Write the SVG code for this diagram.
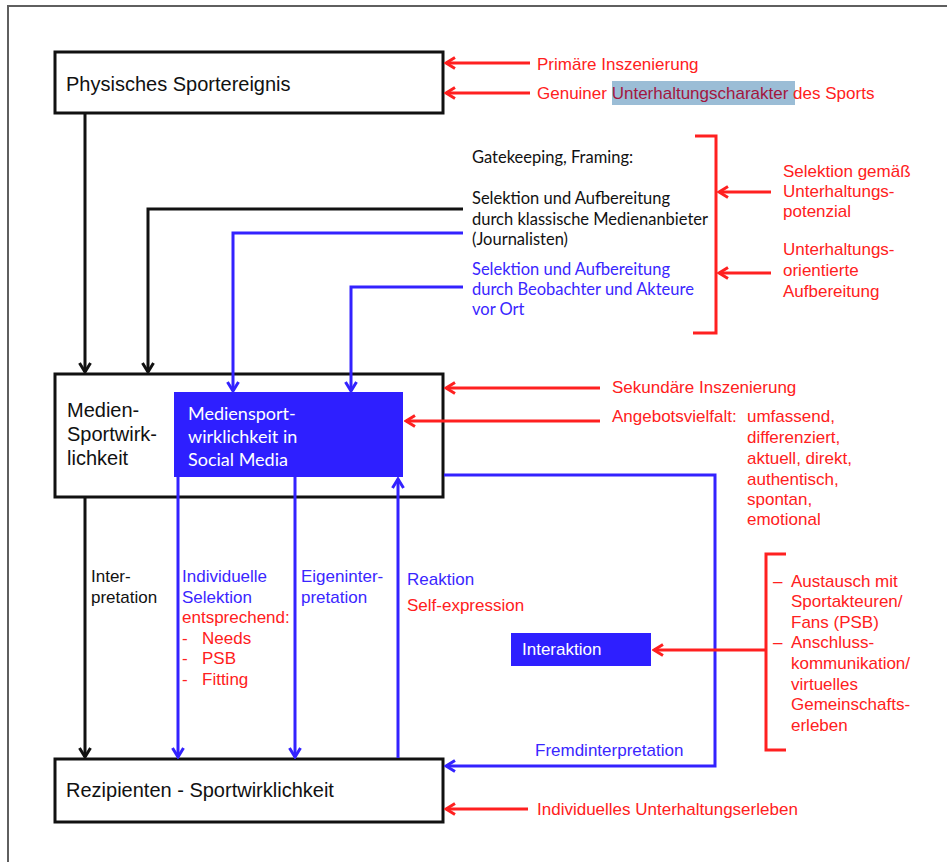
<svg xmlns="http://www.w3.org/2000/svg" width="947" height="862" viewBox="0 0 947 862">
  <defs>
    <style>
      .arial { font-family: "Liberation Sans", Arial, sans-serif; font-size: 17px; }
      .big { font-family: "Liberation Sans", Arial, sans-serif; font-size: 20px; fill: #111; }
      .cal { font-family: Lato, "Open Sans", sans-serif; font-size: 16.5px; }
      .cal-box { font-family: Lato, "Open Sans", sans-serif; font-size: 18px; }
      .red { fill: #ff2020; }
      .blu { fill: #3a26ff; }
      .blk { fill: #111; }
      .wht { fill: #ffffff; }
      .box { fill: #ffffff; stroke: #111; stroke-width: 3; }
      .bbox { fill: #2e1fff; }
      .lk { fill: none; stroke: #111; stroke-width: 3; }
      .lb { fill: none; stroke: #3322ff; stroke-width: 3; }
      .lr { fill: none; stroke: #ff2020; stroke-width: 3; }
    </style>
    <marker id="ak" markerUnits="userSpaceOnUse" markerWidth="14" markerHeight="14" viewBox="0 0 14 14" refX="12" refY="7" orient="auto">
      <path d="M3,1.5 L12,7 L3,12.5" fill="none" stroke="#111" stroke-width="3"/>
    </marker>
    <marker id="ab" markerUnits="userSpaceOnUse" markerWidth="14" markerHeight="14" viewBox="0 0 14 14" refX="12" refY="7" orient="auto">
      <path d="M3,1.5 L12,7 L3,12.5" fill="none" stroke="#3322ff" stroke-width="3"/>
    </marker>
    <marker id="ar" markerUnits="userSpaceOnUse" markerWidth="14" markerHeight="14" viewBox="0 0 14 14" refX="12" refY="7" orient="auto">
      <path d="M3,1.5 L12,7 L3,12.5" fill="none" stroke="#ff2020" stroke-width="3"/>
    </marker>
  </defs>

  <rect width="947" height="862" fill="#ffffff"/>
  <!-- page frame -->
  <path d="M8,862 V6 H947" fill="none" stroke="#5f5f5f" stroke-width="2"/>

  <!-- nodes -->
  <g id="physisches-sportereignis">
    <rect class="box" x="55" y="52" width="388" height="61"/>
    <text class="big" x="66" y="91">Physisches Sportereignis</text>
  </g>

  <g id="medien-sportwirklichkeit">
    <rect class="box" x="55" y="374" width="388" height="123"/>
    <text class="big" x="67" y="417">Medien-</text>
    <text class="big" x="67" y="441">Sportwirk-</text>
    <text class="big" x="67" y="465">lichkeit</text>
  </g>

  <g id="social-media">
    <rect class="bbox" x="174" y="392" width="229" height="85"/>
    <text class="cal-box wht" x="188" y="420">Mediensport-</text>
    <text class="cal-box wht" x="188" y="443">wirklichkeit in</text>
    <text class="cal-box wht" x="188" y="466">Social Media</text>
  </g>

  <g id="rezipienten">
    <rect class="box" x="55" y="759" width="388" height="63"/>
    <text class="big" x="66" y="797">Rezipienten - Sportwirklichkeit</text>
  </g>

  <g id="interaktion">
    <rect class="bbox" x="511" y="633" width="140" height="33"/>
    <text class="arial wht" x="522" y="655">Interaktion</text>
  </g>

  <!-- connectors, drawn over the boxes so the arrowheads stay visible -->
  <g id="connectors">
    <!-- black flows -->
    <path class="lk" d="M85,113 V372" marker-end="url(#ak)"/>
    <path class="lk" d="M463,209 H148 V372" marker-end="url(#ak)"/>
    <path class="lk" d="M85,497 V757" marker-end="url(#ak)"/>
    <!-- blue flows -->
    <path class="lb" d="M463,233 H233 V391" marker-end="url(#ab)"/>
    <path class="lb" d="M463,287 H351 V391" marker-end="url(#ab)"/>
    <path class="lb" d="M178,477 V757" marker-end="url(#ab)"/>
    <path class="lb" d="M295,477 V757" marker-end="url(#ab)"/>
    <path class="lb" d="M398,758 V479" stroke-width="4" marker-end="url(#ab)"/>
    <path class="lb" d="M444,475 H715 V766 H446" marker-end="url(#ab)"/>
    <!-- red annotations -->
    <path class="lr" d="M530,63 H446" marker-end="url(#ar)"/>
    <path class="lr" d="M530,93 H446" marker-end="url(#ar)"/>
    <path class="lr" d="M695,136 H716 V333 H693"/>
    <path class="lr" d="M771,192 H719" marker-end="url(#ar)"/>
    <path class="lr" d="M771,273 H719" marker-end="url(#ar)"/>
    <path class="lr" d="M600,388 H446" marker-end="url(#ar)"/>
    <path class="lr" d="M600,421 H406" marker-end="url(#ar)"/>
    <path class="lr" d="M786,554 H766 V750 H786"/>
    <path class="lr" d="M766,650 H654" marker-end="url(#ar)"/>
    <path class="lr" d="M528,809 H446" marker-end="url(#ar)"/>
  </g>

  <!-- annotations at the top -->
  <g id="primaer">
    <text class="arial red" x="537" y="70">Primäre Inszenierung</text>
    <rect x="612" y="81" width="183" height="24" fill="#9bbdd6"/>
    <text class="arial red" x="537" y="99">Genuiner <tspan fill="#a3163e">Unterhaltungscharakter</tspan> des Sports</text>
  </g>

  <g id="gatekeeping">
    <text class="cal blk" x="472" y="163">Gatekeeping, Framing:</text>
    <text class="cal blk" x="472" y="204">Selektion und Aufbereitung</text>
    <text class="cal blk" x="472" y="225">durch klassische Medienanbieter</text>
    <text class="cal blk" x="472" y="245">(Journalisten)</text>
    <text class="cal blu" x="472" y="275">Selektion und Aufbereitung</text>
    <text class="cal blu" x="472" y="295">durch Beobachter und Akteure</text>
    <text class="cal blu" x="472" y="315">vor Ort</text>
  </g>

  <g id="selektion-potenzial">
    <text class="arial red" x="783" y="177">Selektion gemäß</text>
    <text class="arial red" x="783" y="197">Unterhaltungs-</text>
    <text class="arial red" x="783" y="217">potenzial</text>
    <text class="arial red" x="783" y="255">Unterhaltungs-</text>
    <text class="arial red" x="783" y="276">orientierte</text>
    <text class="arial red" x="783" y="297">Aufbereitung</text>
  </g>

  <g id="sekundaer">
    <text class="arial red" x="612" y="393">Sekundäre Inszenierung</text>
    <text class="arial red" x="612" y="422">Angebotsvielfalt:</text>
    <text class="arial red" x="747" y="422">umfassend,</text>
    <text class="arial red" x="747" y="443">differenziert,</text>
    <text class="arial red" x="747" y="464">aktuell, direkt,</text>
    <text class="arial red" x="747" y="485">authentisch,</text>
    <text class="arial red" x="747" y="505">spontan,</text>
    <text class="arial red" x="747" y="525">emotional</text>
  </g>

  <!-- flow labels -->
  <g id="labels">
    <text class="arial blk" x="91" y="582">Inter-</text>
    <text class="arial blk" x="91" y="603">pretation</text>
    <text class="arial blu" x="182" y="582">Individuelle</text>
    <text class="arial blu" x="182" y="603">Selektion</text>
    <text class="arial red" x="182" y="623">entsprechend:</text>
    <text class="arial red" x="182" y="644">-</text>
    <text class="arial red" x="202" y="644">Needs</text>
    <text class="arial red" x="182" y="664">-</text>
    <text class="arial red" x="202" y="664">PSB</text>
    <text class="arial red" x="182" y="685">-</text>
    <text class="arial red" x="202" y="685">Fitting</text>
    <text class="arial blu" x="301" y="582">Eigeninter-</text>
    <text class="arial blu" x="301" y="603">pretation</text>
    <text class="arial blu" x="407" y="585">Reaktion</text>
    <text class="arial red" x="407" y="611">Self-expression</text>
    <text class="arial blu" x="535" y="756">Fremdinterpretation</text>
    <text class="arial red" x="537" y="815">Individuelles Unterhaltungserleben</text>
  </g>

  <g id="interaktion-details">
    <text class="arial red" x="773" y="587">–</text>
    <text class="arial red" x="791" y="587">Austausch mit</text>
    <text class="arial red" x="791" y="607">Sportakteuren/</text>
    <text class="arial red" x="791" y="628">Fans (PSB)</text>
    <text class="arial red" x="773" y="648">–</text>
    <text class="arial red" x="791" y="648">Anschluss-</text>
    <text class="arial red" x="791" y="669">kommunikation/</text>
    <text class="arial red" x="791" y="690">virtuelles</text>
    <text class="arial red" x="791" y="710">Gemeinschafts-</text>
    <text class="arial red" x="791" y="731">erleben</text>
  </g>
</svg>
